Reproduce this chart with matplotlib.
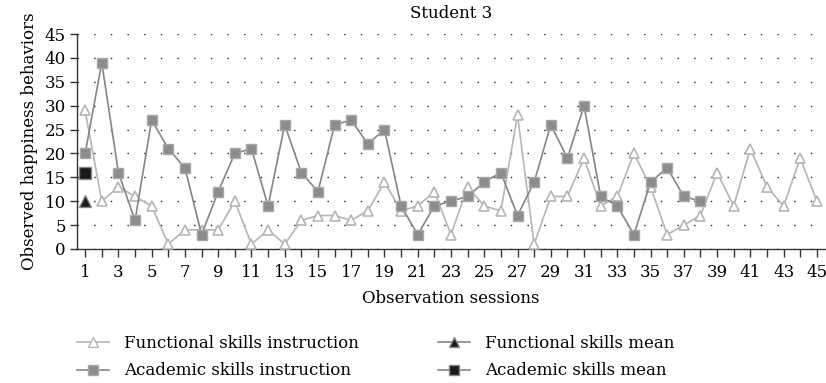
import matplotlib
matplotlib.use("Agg")
import matplotlib.pyplot as plt
from matplotlib.lines import Line2D

# observation sessions
functional_sessions = list(range(1, 46))
functional_values = [29, 10, 13, 11, 9, 1, 4, 4, 4, 10,
                     1, 4, 1, 6, 7, 7, 6, 8, 14, 8,
                     9, 12, 3, 13, 9, 8, 28, 1, 11, 11,
                     19, 9, 11, 20, 13, 3, 5, 7, 16, 9,
                     21, 13, 9, 19, 10]

academic_sessions = list(range(1, 39))
academic_values = [20, 39, 16, 6, 27, 21, 17, 3, 12, 20,
                   21, 9, 26, 16, 12, 26, 27, 22, 25, 9,
                   3, 9, 10, 11, 14, 16, 7, 14, 26, 19,
                   30, 11, 9, 3, 14, 17, 11, 10]

functional_mean = 10
academic_mean = 16
mean_session = 1

plt.rcParams["font.family"] = ["DejaVu Serif"]
FS = 12

fig = plt.figure(figsize=(8.26, 3.83), dpi=100)
ax = fig.add_axes([0.093, 0.35, 0.906, 0.561])

light = "#b5b5b5"
mid = "#858585"

ax.plot(functional_sessions, functional_values, color=light, lw=1.2,
        marker="^", ms=7.5, mfc="white", mec=light, mew=1.2, zorder=3)
ax.plot(academic_sessions, academic_values, color=mid, lw=1.2,
        marker="s", ms=7.5, mfc="#8c8c8c", mec="#a8a8a8", mew=1.0, zorder=4)
ax.plot([mean_session], [functional_mean], ls="none", marker="^", ms=8,
        mfc="#1a1a1a", mec="#888888", mew=1.0, zorder=5)
ax.plot([mean_session], [academic_mean], ls="none", marker="s", ms=8.5,
        mfc="#1a1a1a", mec="#888888", mew=1.0, zorder=5)

ax.set_xlim(0.5, 45.5)
ax.set_ylim(0, 45)
ax.set_yticks(range(0, 46, 5))
ax.set_xticks(range(1, 46, 2))
ax.set_xticks(range(1, 46), minor=True)
ax.yaxis.grid(True, color="#222222", linestyle=(0, (1, 11)), lw=1.0)
ax.set_axisbelow(True)

for s in ["top", "right"]:
    ax.spines[s].set_visible(False)
for s in ["left", "bottom"]:
    ax.spines[s].set_color("#333333")
    ax.spines[s].set_linewidth(1.0)
ax.tick_params(axis="both", which="both", direction="out", color="#333333",
               width=1.0, labelsize=FS)
ax.tick_params(axis="x", which="both", length=6, pad=4.5)
ax.tick_params(axis="y", length=5, pad=3)

ax.set_title("Student 3", fontsize=FS, pad=11.5)
ax.set_xlabel("Observation sessions", fontsize=FS, labelpad=7)
ax.set_ylabel("Observed happiness behaviors", fontsize=FS, labelpad=5)

handles1 = [
    Line2D([], [], color=light, lw=1.2, marker="^", ms=7, mfc="white", mec=light),
    Line2D([], [], color=mid, lw=1.2, marker="s", ms=7, mfc="#8c8c8c", mec="#a8a8a8"),
]
handles2 = [
    Line2D([], [], color=mid, lw=1.2, marker="^", ms=7, mfc="#1a1a1a", mec="#888888"),
    Line2D([], [], color=mid, lw=1.2, marker="s", ms=7, mfc="#1a1a1a", mec="#888888"),
]
labels1 = ["Functional skills instruction", "Academic skills instruction"]
labels2 = ["Functional skills mean", "Academic skills mean"]
leg_kw = dict(loc="upper left", frameon=False, fontsize=FS, handlelength=1.9,
              handletextpad=0.9, labelspacing=0.62, borderpad=0, borderaxespad=0)
fig.legend(handles1, labels1, bbox_to_anchor=(77 / 826, 0.125), **leg_kw)
fig.legend(handles2, labels2, bbox_to_anchor=(438 / 826, 0.125), **leg_kw)

fig.savefig("out.png", dpi=100)
